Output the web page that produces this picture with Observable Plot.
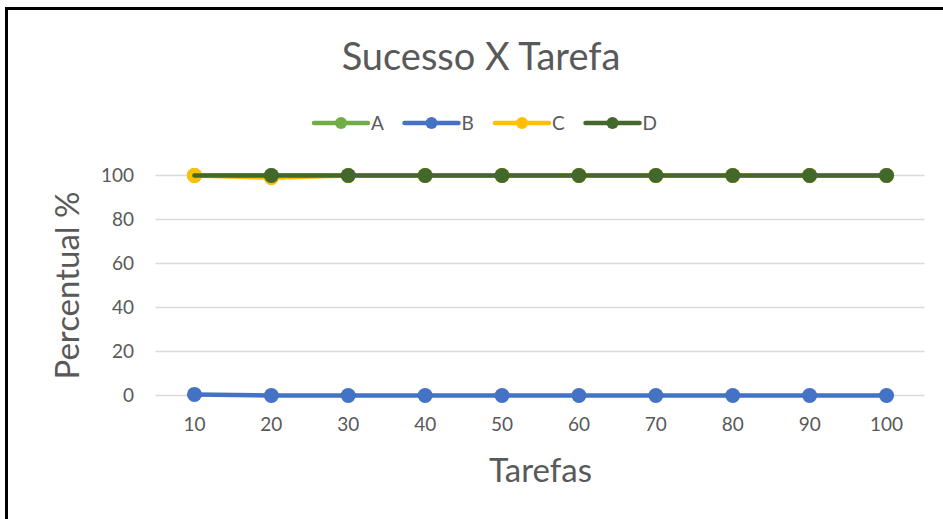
<!DOCTYPE html>
<html><head><meta charset="utf-8">
<script src="https://cdn.jsdelivr.net/npm/d3@7"></script>
<script src="https://cdn.jsdelivr.net/npm/@observablehq/plot@0.6"></script>
<style>
html,body{margin:0;padding:0;background:#fff;}
#wrap{position:relative;width:943px;height:519px;overflow:hidden;font-family:Lato,"Open Sans",sans-serif;}
#frame{position:absolute;left:5px;top:7px;width:960px;height:540px;border:3px solid #000;box-sizing:border-box;pointer-events:none;}
#title{position:absolute;left:0;width:962px;top:32px;text-align:center;font-size:38px;color:#595959;}
#legend{position:absolute;left:0;top:108px;}
#chart{position:absolute;left:0;top:0;}
</style></head>
<body><div id="wrap"><div id="chart"></div><div id="title">Sucesso X Tarefa</div><svg id="legend" width="943" height="30"></svg><div id="frame"></div></div>
<script>
const tarefas = ["10","20","30","40","50","60","70","80","90","100"];
const seriesNames = ["A","B","C","D"];
const seriesColors = ["#70AD47","#4472C4","#FFC000","#43682B"];
const valuesA = [100,100,100,100,100,100,100,100,100,100];
const valuesB = [0.5,0,0,0,0,0,0,0,0,0];
const valuesC = [100,99,100,100,100,100,100,100,100,100];
const valuesD = [100,100,100,100,100,100,100,100,100,100];
const yTicks = [0,20,40,60,80,100];

const allValues = [valuesA, valuesB, valuesC, valuesD];
const rows = s => tarefas.map((t,i)=>({t, v: allValues[s][i], s: seriesNames[s]}));
const marks = [Plot.ruleY(yTicks,{stroke:"#d9d9d9",strokeWidth:1.3})];
for (let s=0;s<4;s++){
  const d = rows(s);
  marks.push(Plot.line(d,{x:"t",y:"v",stroke:seriesColors[s],strokeWidth:4.5}));
  const dots = s===3 ? d.slice(1) : d;
  marks.push(Plot.dot(dots,{x:"t",y:"v",r:7.5,fill:seriesColors[s],stroke:"none"}));
}
const chart = Plot.plot({
  width:943,height:519,
  marginLeft:155.5,marginRight:18.5,marginTop:175,marginBottom:124,
  style:{fontFamily:"Lato, 'Open Sans', sans-serif",fontSize:"19px",color:"#595959",background:"#fff"},
  x:{type:"point",domain:tarefas,padding:0.5,round:false,label:null},
  y:{domain:[0,100],label:null,ticks:yTicks},
  marks:[
    ...marks,
    Plot.axisY({ticks:yTicks,tickSize:0,tickPadding:22,fontSize:19,fill:"#595959",label:null}),
    Plot.axisX({tickSize:0,tickPadding:22,fontSize:19,fill:"#595959",label:null}),
    Plot.text(["Percentual %"],{frameAnchor:"left",dx:-88,rotate:-90,textAnchor:"middle",fontSize:33,fill:"#595959"}),
    Plot.text(["Tarefas"],{frameAnchor:"bottom",dy:86,fontSize:33,fill:"#595959"})
  ]
});
document.getElementById("chart").appendChild(chart);

// legend
const lg = d3.select("#legend");
const startX = 314, stepX = 90.5;
seriesNames.forEach((n,i)=>{
  const x0 = startX + i*stepX;
  const g = lg.append("g");
  g.append("line").attr("x1",x0).attr("x2",x0+54).attr("y1",15).attr("y2",15).attr("stroke",seriesColors[i]).attr("stroke-width",4.5).attr("stroke-linecap","round");
  g.append("circle").attr("cx",x0+27).attr("cy",15).attr("r",6).attr("fill",seriesColors[i]);
  g.append("text").attr("x",x0+57).attr("y",22).attr("font-size",19).attr("fill","#595959").attr("font-family","Lato, 'Open Sans', sans-serif").text(n);
});
</script></body></html>
